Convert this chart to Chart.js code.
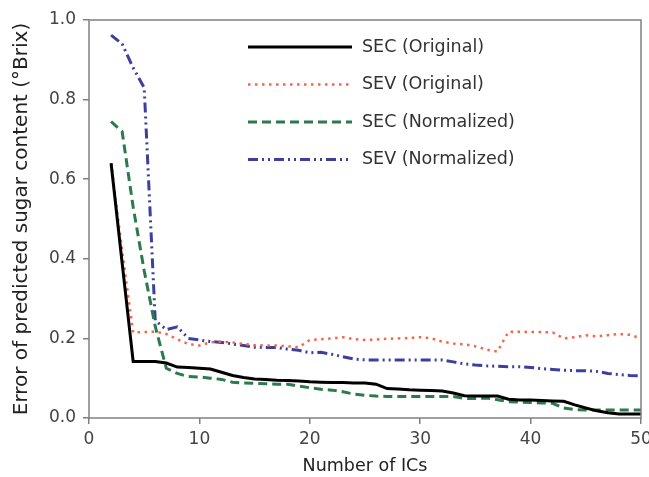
<!DOCTYPE html>
<html>
<head>
<meta charset="utf-8">
<script src="https://cdn.jsdelivr.net/npm/chart.js@4"></script>
<style>
  html, body { margin: 0; padding: 0; background: #fff; overflow: hidden; }
  #wrap { width: 649px; height: 477px; }
</style>
</head>
<body>
<div id="wrap"><canvas id="icChart" width="649" height="477"></canvas></div>
<script>
const ics = [2, 3, 4, 5, 6, 7, 8, 9, 10, 11, 12, 13, 14, 15, 16, 17, 18, 19, 20, 21, 22, 23, 24, 25, 26,
    27, 28, 29, 30, 31, 32, 33, 34, 35, 36, 37, 38, 39, 40, 41, 42, 43, 44, 45, 46, 47, 48, 49, 50];

const secOriginal = [0.64, 0.39, 0.142, 0.142, 0.142, 0.138, 0.128, 0.127, 0.125, 0.123, 0.115, 0.107, 0.102,
    0.098, 0.097, 0.095, 0.094, 0.093, 0.091, 0.090, 0.089, 0.089, 0.088, 0.088, 0.085, 0.074, 0.073, 0.071,
    0.070, 0.069, 0.068, 0.063, 0.056, 0.055, 0.055, 0.055, 0.047, 0.045, 0.045, 0.044, 0.043, 0.042, 0.033,
    0.025, 0.018, 0.013, 0.010, 0.010, 0.010];

const sevOriginal = [0.64, 0.42, 0.215, 0.216, 0.217, 0.211, 0.198, 0.186, 0.182, 0.190, 0.192, 0.190, 0.186,
    0.183, 0.182, 0.182, 0.180, 0.178, 0.196, 0.198, 0.200, 0.203, 0.198, 0.196, 0.197, 0.199, 0.200, 0.201,
    0.203, 0.200, 0.192, 0.187, 0.185, 0.180, 0.172, 0.167, 0.217, 0.217, 0.216, 0.216, 0.215, 0.200, 0.203,
    0.208, 0.205, 0.208, 0.211, 0.209, 0.200];

const secNormalized = [0.745, 0.72, 0.53, 0.37, 0.23, 0.125, 0.112, 0.104, 0.103, 0.100, 0.097, 0.090, 0.088,
    0.087, 0.086, 0.085, 0.085, 0.080, 0.076, 0.072, 0.070, 0.066, 0.060, 0.057, 0.055, 0.054, 0.054, 0.054,
    0.054, 0.054, 0.054, 0.054, 0.049, 0.049, 0.050, 0.046, 0.041, 0.040, 0.039, 0.038, 0.037, 0.025, 0.021,
    0.020, 0.020, 0.020, 0.020, 0.020, 0.020];

const sevNormalized = [0.962, 0.94, 0.88, 0.83, 0.245, 0.222, 0.229, 0.200, 0.196, 0.192, 0.190, 0.186, 0.182,
    0.178, 0.177, 0.177, 0.173, 0.170, 0.164, 0.165, 0.160, 0.154, 0.148, 0.146, 0.146, 0.146, 0.146, 0.146,
    0.146, 0.146, 0.146, 0.141, 0.136, 0.133, 0.131, 0.130, 0.129, 0.129, 0.127, 0.124, 0.122, 0.120, 0.119,
    0.119, 0.117, 0.112, 0.109, 0.107, 0.106];

const seriesLabels = ["SEC (Original)", "SEV (Original)", "SEC (Normalized)", "SEV (Normalized)"];
const xTicks = [0, 10, 20, 30, 40, 50];
const yTicks = [0.0, 0.2, 0.4, 0.6, 0.8, 1.0];

const FONT = "'DejaVu Sans', Verdana, sans-serif";
const toPoints = (vals) => vals.map((v, i) => ({ x: ics[i], y: v }));

// legend drawn inside the plot, with the line styles of each dataset
const insideLegend = {
    id: "insideLegend",
    afterDraw(chart) {
        const ctx = chart.ctx;
        const area = chart.chartArea;
        // frame round the plot
        ctx.save();
        ctx.strokeStyle = "#808080";
        ctx.lineWidth = 1.5;
        ctx.strokeRect(area.left, area.top, area.right - area.left, area.bottom - area.top);
        ctx.restore();

        chart.data.datasets.forEach((ds, i) => {
            const y = 47 + i * 37.5;
            ctx.save();
            ctx.strokeStyle = ds.borderColor;
            ctx.lineWidth = ds.borderWidth;
            ctx.setLineDash(ds.borderDash || []);
            ctx.beginPath();
            ctx.moveTo(248, y);
            ctx.lineTo(352, y);
            ctx.stroke();
            ctx.setLineDash([]);
            ctx.fillStyle = "#333";
            ctx.font = "17.5px " + FONT;
            ctx.textBaseline = "middle";
            ctx.fillText(ds.label, 362, y);
            ctx.restore();
        });
    },
};

const ctx = document.querySelector("#icChart").getContext("2d");
const icChart = new Chart(ctx, {
    type: "line",
    data: {
        datasets: [{
            label: seriesLabels[0],
            data: toPoints(secOriginal),
            borderColor: "#000000",
            borderWidth: 3,
        }, {
            label: seriesLabels[1],
            data: toPoints(sevOriginal),
            borderColor: "#f2674a",
            borderWidth: 2.5,
            borderDash: [2.5, 4.5],
        }, {
            label: seriesLabels[2],
            data: toPoints(secNormalized),
            borderColor: "#2b7a4b",
            borderWidth: 3,
            borderDash: [9, 5],
        }, {
            label: seriesLabels[3],
            data: toPoints(sevNormalized),
            borderColor: "#3d3f9f",
            borderWidth: 3,
            borderDash: [10, 4, 2, 4, 2, 4],
        }, ],
    },
    options: {
        responsive: false,
        animation: false,
        layout: { padding: { top: 20, right: 8, left: 0, bottom: 0 } },
        elements: { point: { radius: 0 }, line: { tension: 0 } },
        plugins: {
            legend: { display: false },
            tooltip: { enabled: false },
        },
        scales: {
            x: {
                type: "linear",
                min: 0,
                max: 50,
                afterBuildTicks: (scale) => { scale.ticks = xTicks.map(v => ({ value: v })); },
                afterFit: (scale) => { scale.height = 59; scale.paddingRight = 0; scale.paddingLeft = 0; },
                ticks: {
                    color: "#444",
                    font: { family: FONT, size: 17 },
                    padding: 5,
                    maxRotation: 0,
                },
                grid: { drawOnChartArea: false, tickLength: 6, color: "#808080", lineWidth: 1.5 },
                border: { display: false },
                title: {
                    display: true,
                    text: "Number of ICs",
                    color: "#222",
                    font: { family: FONT, size: 17.5 },
                    padding: { top: 2, bottom: 0 },
                },
            },
            y: {
                min: 0,
                max: 1,
                afterBuildTicks: (scale) => { scale.ticks = yTicks.map(v => ({ value: v })); },
                afterFit: (scale) => { scale.width = 89; },
                ticks: {
                    color: "#444",
                    font: { family: FONT, size: 17 },
                    padding: 7,
                    callback: (v) => v.toFixed(1),
                },
                grid: { drawOnChartArea: false, tickLength: 6, color: "#808080", lineWidth: 1.5 },
                border: { display: false },
                title: {
                    display: true,
                    text: "Error of predicted sugar content (°Brix)",
                    color: "#222",
                    font: { family: FONT, size: 20 },
                    padding: { top: 10, bottom: 0 },
                },
            },
        },
    },
    plugins: [insideLegend],
});
</script>
</body>
</html>
